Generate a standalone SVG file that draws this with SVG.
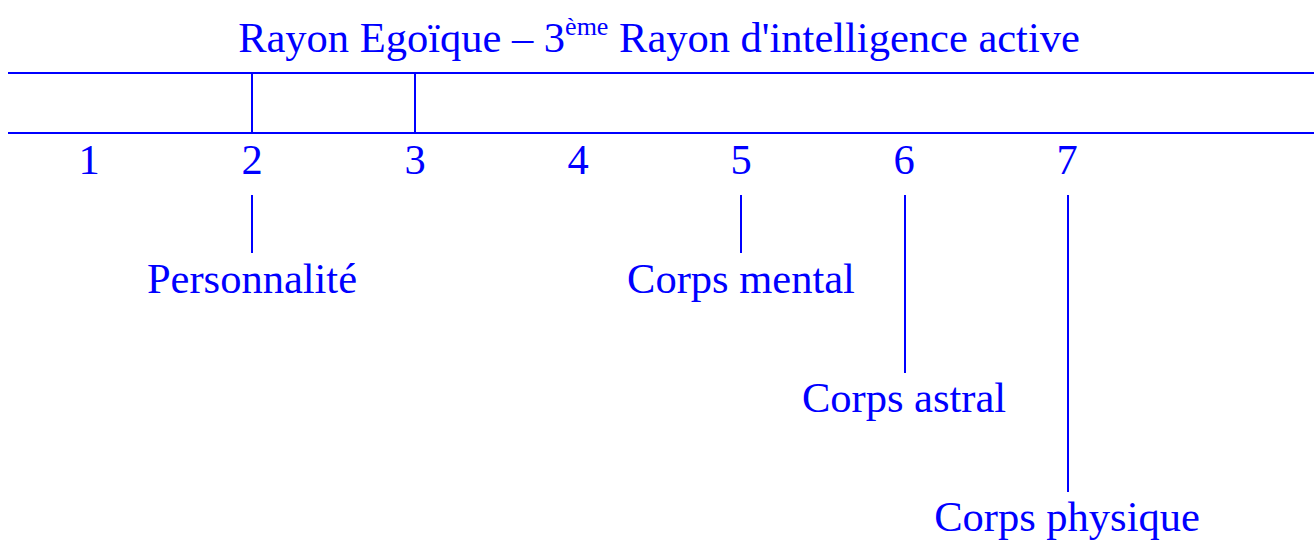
<svg xmlns="http://www.w3.org/2000/svg" width="1314" height="540" viewBox="0 0 1314 540">
<style>
text{font-family:"Liberation Serif","Times New Roman",serif;fill:#0000ff;font-size:42.5px;text-anchor:middle}
line{stroke:#0000ff;stroke-width:2}
</style>
<rect width="1314" height="540" fill="#fff"/>
<g id="title">
<text x="659" y="52">Rayon Egoïque – 3<tspan dy="-17" font-size="26">ème</tspan><tspan dy="17"> Rayon d'intelligence active</tspan></text>
</g>
<g id="band">
<line x1="8" y1="73" x2="1314" y2="73"/>
<line x1="8" y1="133" x2="1314" y2="133"/>
<line x1="252" y1="73" x2="252" y2="133"/>
<line x1="415" y1="73" x2="415" y2="133"/>
</g>
<g id="numbers">
<text x="89" y="174">1</text>
<text x="252" y="174">2</text>
<text x="415" y="174">3</text>
<text x="578" y="174">4</text>
<text x="741" y="174">5</text>
<text x="904" y="174">6</text>
<text x="1067" y="174">7</text>
</g>
<g id="connectors">
<line x1="252" y1="195" x2="252" y2="253"/>
<line x1="741" y1="195" x2="741" y2="253"/>
<line x1="905" y1="195" x2="905" y2="373"/>
<line x1="1068" y1="195" x2="1068" y2="492"/>
</g>
<g id="personnalite"><text x="252" y="293">Personnalité</text></g>
<g id="corps-mental"><text x="741" y="293">Corps mental</text></g>
<g id="corps-astral"><text x="904" y="412">Corps astral</text></g>
<g id="corps-physique"><text x="1067" y="531">Corps physique</text></g>
</svg>
